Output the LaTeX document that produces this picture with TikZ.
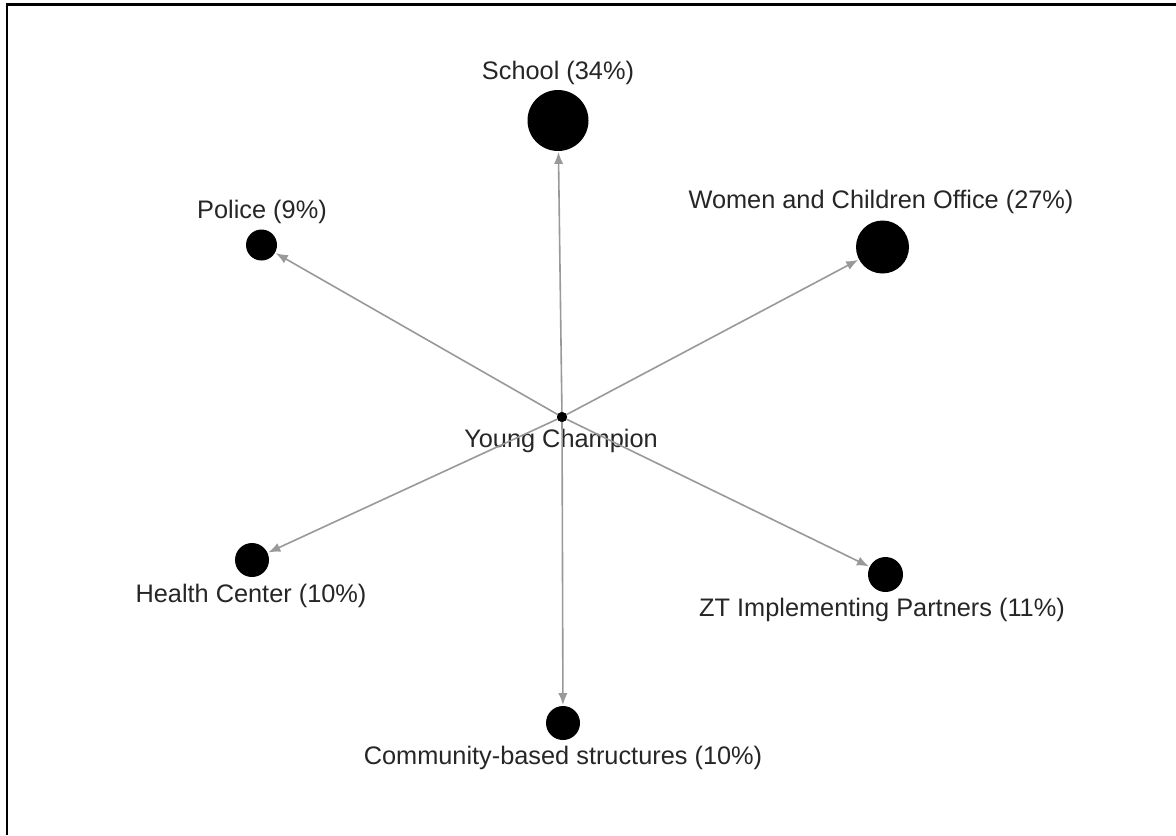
\documentclass[tikz,border=0pt]{standalone}
\usepackage{fontspec}
\setmainfont{Liberation Sans}
\usetikzlibrary{arrows.meta}
\tikzset{
  vert/.style={circle,fill=black,draw=none,inner sep=0pt,minimum size=#1},
  lbl/.style={font=\fontsize{19}{21}\selectfont,text=black!85,inner sep=0pt,anchor=center},
  edge/.style={draw=black!40,line width=1.2pt,-{Latex[length=9pt,width=7pt]},shorten >=0.5pt}
}
\begin{document}
\begin{tikzpicture}[x=0.75pt,y=-0.75pt]
\useasboundingbox (0,0) rectangle (1176,835);
\fill[white] (0,0) rectangle (1176,835);
% frame (left and top edges)
\draw[line width=2pt,black] (7,835) -- (7,4.5) -- (1176,4.5);
% vertices
\node[vert=10*0.75pt] (yc) at (562,417) {};
\node[vert=61*0.75pt] (school) at (558,120.5) {};
\node[vert=31*0.75pt] (police) at (261.5,245) {};
\node[vert=53*0.75pt] (wco) at (882.5,247) {};
\node[vert=34*0.75pt] (health) at (252,560) {};
\node[vert=35*0.75pt] (zt) at (885.5,574.5) {};
\node[vert=34*0.75pt] (cbs) at (563,723) {};
% labels
\node[lbl] (lschool) at (558,73) {School (34\%)};
\node[lbl] (lpolice) at (262,212) {Police (9\%)};
\node[lbl] (lwco) at (881,202) {Women and Children Office (27\%)};
\node[lbl] (lyc) at (561,441) {Young Champion};
\node[lbl] (lhealth) at (251,596) {Health Center (10\%)};
\node[lbl] (lzt) at (882,610) {ZT Implementing Partners (11\%)};
\node[lbl] (lcbs) at (563,758) {Community-based structures (10\%)};
% edges
\foreach \t in {school,police,wco,health,zt,cbs}
  \draw[edge] (yc.center) -- (\t);
\fill[black] (yc) circle (5);
\end{tikzpicture}
\end{document}
